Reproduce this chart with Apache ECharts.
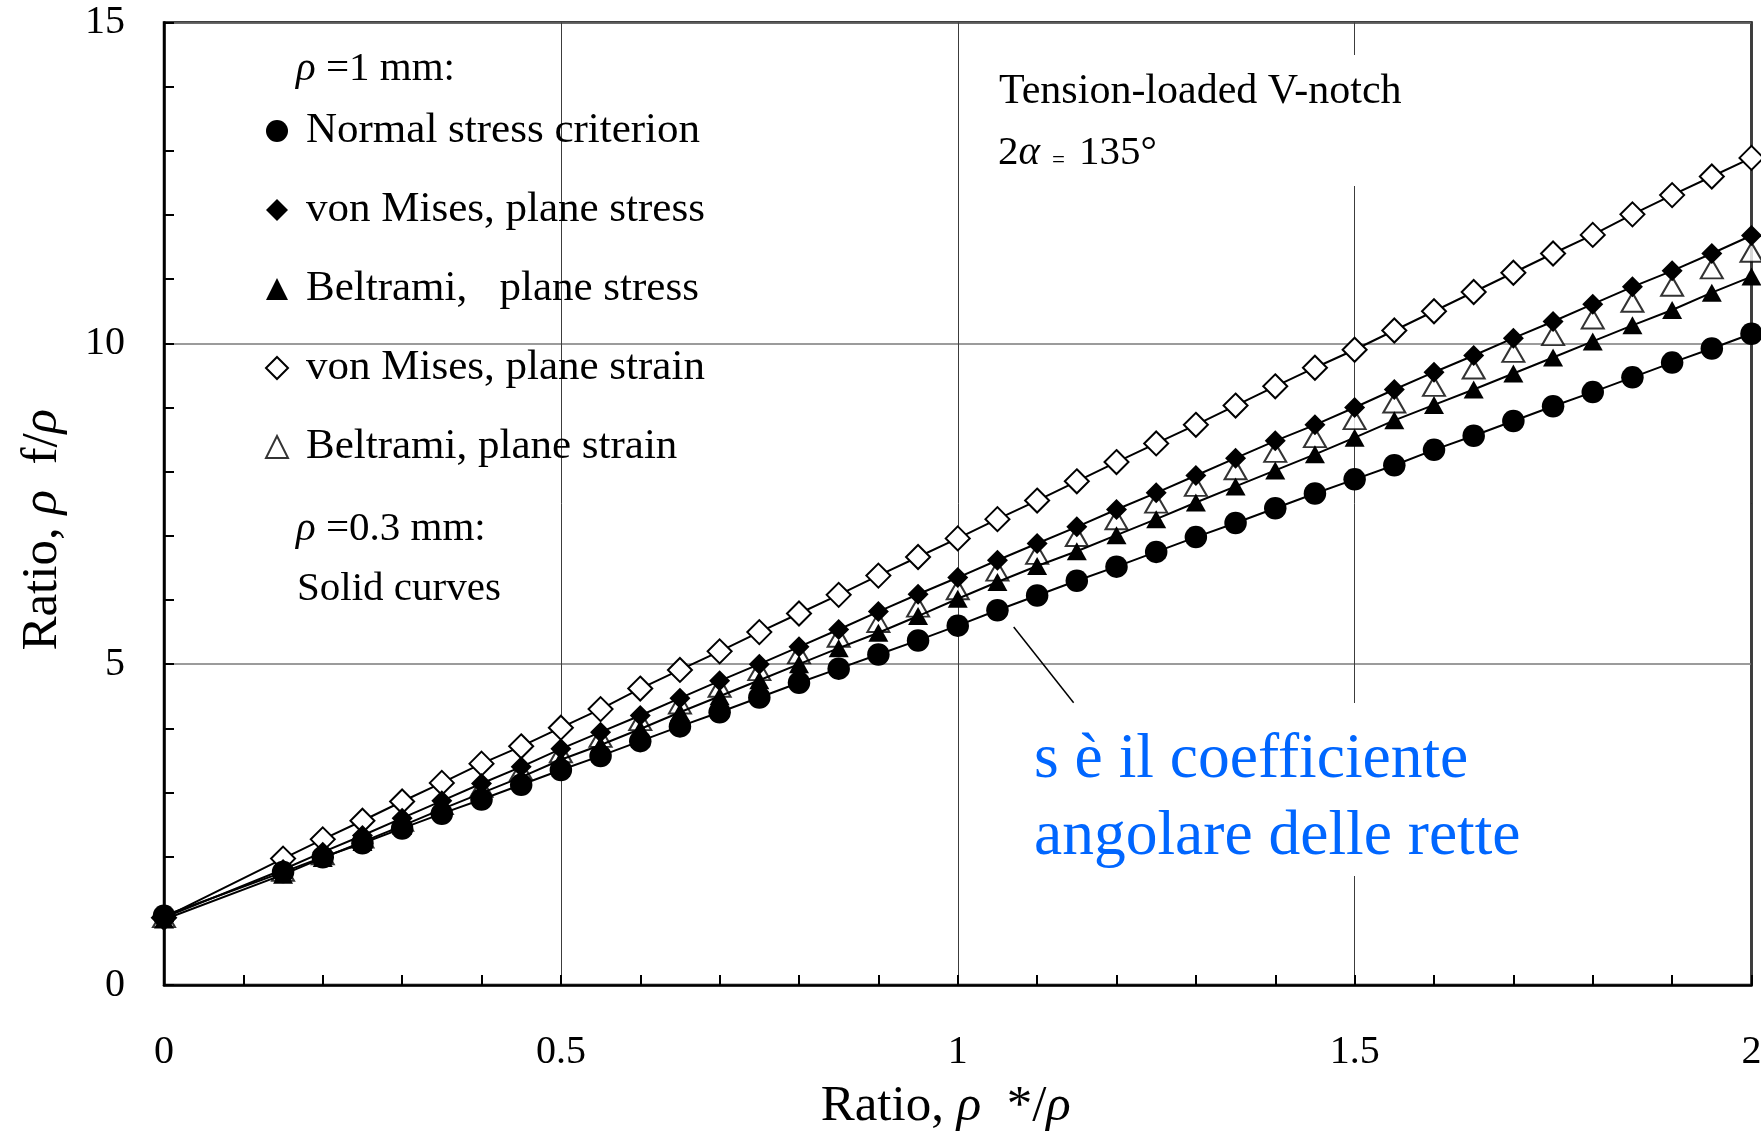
<!DOCTYPE html>
<html><head><meta charset="utf-8">
<script src="https://cdn.jsdelivr.net/npm/echarts@6/dist/echarts.min.js"></script>
<style>html,body{margin:0;padding:0;background:#fff}#c{width:1761px;height:1135px}</style>
</head><body><div id="c"></div>
<script>
// ---- data ----
const xValues = [0, 0.15, 0.2, 0.25, 0.3, 0.35, 0.4, 0.45, 0.5, 0.55, 0.6, 0.65, 0.7, 0.75, 0.8, 0.85, 0.9, 0.95, 1,
  1.05, 1.1, 1.15, 1.2, 1.25, 1.3, 1.35, 1.4, 1.45, 1.5, 1.55, 1.6, 1.65, 1.7, 1.75, 1.8, 1.85, 1.9, 1.95, 2];
const normalStress = [1.08, 1.76, 1.99, 2.21, 2.44, 2.67, 2.89, 3.12, 3.35, 3.57, 3.80, 4.03, 4.25, 4.48, 4.71, 4.93, 5.15, 5.37, 5.60,
  5.84, 6.07, 6.30, 6.52, 6.75, 6.98, 7.20, 7.43, 7.66, 7.88, 8.10, 8.34, 8.56, 8.79, 9.02, 9.24, 9.47, 9.70, 9.92, 10.15];
const vonMisesPlaneStress = [1.05, 1.80, 2.07, 2.33, 2.60, 2.87, 3.14, 3.40, 3.68, 3.94, 4.20, 4.47, 4.74, 5.00, 5.27, 5.54, 5.82, 6.09, 6.35,
  6.62, 6.88, 7.14, 7.41, 7.67, 7.94, 8.21, 8.48, 8.73, 9.00, 9.28, 9.55, 9.81, 10.08, 10.34, 10.61, 10.88, 11.13, 11.40, 11.68];
const beltramiPlaneStress = [1.02, 1.72, 1.98, 2.23, 2.48, 2.74, 2.99, 3.24, 3.51, 3.74, 3.99, 4.25, 4.50, 4.75, 5.00, 5.25, 5.49, 5.75, 6.02,
  6.28, 6.53, 6.76, 7.01, 7.26, 7.52, 7.77, 8.02, 8.27, 8.53, 8.80, 9.04, 9.28, 9.53, 9.78, 10.03, 10.28, 10.52, 10.79, 11.04];
const vonMisesPlaneStrain = [1.05, 1.97, 2.27, 2.56, 2.86, 3.15, 3.45, 3.72, 4.01, 4.30, 4.62, 4.91, 5.20, 5.50, 5.79, 6.08, 6.38, 6.67, 6.96,
  7.26, 7.55, 7.85, 8.15, 8.44, 8.73, 9.03, 9.33, 9.62, 9.90, 10.20, 10.50, 10.80, 11.10, 11.40, 11.69, 12.01, 12.31, 12.60, 12.89];
const beltramiPlaneStrain = [1.05, 1.77, 2.03, 2.29, 2.55, 2.81, 3.08, 3.34, 3.62, 3.86, 4.12, 4.38, 4.64, 4.90, 5.16, 5.42, 5.65, 5.89, 6.16,
  6.45, 6.71, 6.99, 7.25, 7.51, 7.77, 8.03, 8.30, 8.53, 8.81, 9.07, 9.33, 9.60, 9.86, 10.12, 10.38, 10.64, 10.89, 11.16, 11.42];
const seriesNames = ['Normal stress criterion', 'von Mises, plane stress', 'Beltrami,   plane stress',
  'von Mises, plane strain', 'Beltrami, plane strain'];
const annotationFrom = [1.0705, 5.58];
const annotationTo = [1.146, 4.40];

// ---- chart ----
const FONT = 'Liberation Serif';
const pairs = ys => xValues.map((x, i) => [x, ys[i]]);
const chart = echarts.init(document.getElementById('c'), null, { renderer: 'canvas' });

const openStyle = { color: '#fff', borderColor: '#000', borderWidth: 2 };
const fillStyle = { color: '#000', borderWidth: 0 };
const lineStyle = { color: '#000', width: 2 };
const common = { silent: true, emphasis: { disabled: true }, animation: false };

const option = {
  animation: false,
  backgroundColor: '#fff',
  textStyle: { fontFamily: FONT },
  grid: { left: 164, right: 9.5, top: 22.5, bottom: 150, show: true, borderColor: '#000', borderWidth: 2.5,
    containLabel: false, outerBoundsMode: 'none' },
  xAxis: {
    type: 'value', min: 0, max: 2, interval: 0.5,
    axisLine: { show: true, lineStyle: { color: '#000', width: 2.5 } },
    axisTick: { show: true, inside: true, length: 10, lineStyle: { color: '#000', width: 2 } },
    minorTick: { show: true, splitNumber: 5, length: 10, lineStyle: { color: '#000', width: 2 } },
    splitLine: { show: true, lineStyle: { color: '#3c3c3c', width: 1 } },
    axisLabel: { fontSize: 40, color: '#000', fontFamily: FONT, margin: 47 },
    name: 'Ratio, {i|ρ}  */{i|ρ}', nameLocation: 'middle', nameGap: 96,
    nameTextStyle: { fontSize: 51, color: '#000', fontFamily: FONT, padding: [0, 24, 0, 0],
      rich: { i: { fontSize: 51, fontStyle: 'italic', fontFamily: FONT, color: '#000' } } }
  },
  yAxis: {
    type: 'value', min: 0, max: 15, interval: 5,
    axisLine: { show: true, lineStyle: { color: '#000', width: 2.5 } },
    axisTick: { show: true, inside: true, length: 10, lineStyle: { color: '#000', width: 2 } },
    minorTick: { show: true, splitNumber: 5, length: 10, lineStyle: { color: '#000', width: 2 } },
    splitLine: { show: true, lineStyle: { color: '#7a7a7a', width: 1.5 } },
    axisLabel: { fontSize: 40, color: '#000', fontFamily: FONT, margin: 39 },
    name: 'Ratio, {i|ρ}  f/{i|ρ}', nameLocation: 'middle', nameGap: 96,
    nameTextStyle: { fontSize: 51, color: '#000', fontFamily: FONT, padding: [0, 52, 0, 0],
      rich: { i: { fontSize: 51, fontStyle: 'italic', fontFamily: FONT, color: '#000' } } }
  },
  legend: {
    orient: 'vertical', left: 265, top: 106, padding: 0, itemGap: 29, itemWidth: 22, itemHeight: 22,
    selectedMode: false,
    textStyle: { fontFamily: FONT, fontSize: 43, color: '#000', lineHeight: 50, padding: [0, 0, 0, 13] },
    data: [
      { name: seriesNames[0], icon: 'circle', itemStyle: fillStyle },
      { name: seriesNames[1], icon: 'diamond', itemStyle: fillStyle },
      { name: seriesNames[2], icon: 'triangle', itemStyle: fillStyle },
      { name: seriesNames[3], icon: 'diamond', itemStyle: openStyle },
      { name: seriesNames[4], icon: 'triangle', itemStyle: openStyle }
    ]
  },
  series: [
    Object.assign({ name: seriesNames[3], type: 'line', data: pairs(vonMisesPlaneStrain), symbol: 'diamond', symbolSize: [24, 24],
      showAllSymbol: true, lineStyle: lineStyle, itemStyle: openStyle, z: 2 }, common),
    Object.assign({ name: seriesNames[4], type: 'scatter', data: pairs(beltramiPlaneStrain), symbol: 'triangle',
      symbolSize: [22, 19], itemStyle: openStyle, z: 3 }, common),
    Object.assign({ name: seriesNames[0], type: 'line', data: pairs(normalStress), symbol: 'circle', symbolSize: 22.5,
      showAllSymbol: true, lineStyle: lineStyle, itemStyle: fillStyle, z: 4 }, common),
    Object.assign({ name: seriesNames[2], type: 'line', data: pairs(beltramiPlaneStress), symbol: 'triangle', symbolSize: [20, 18],
      showAllSymbol: true, lineStyle: lineStyle, itemStyle: fillStyle, z: 5 }, common),
    Object.assign({ name: seriesNames[1], type: 'line', data: pairs(vonMisesPlaneStress), symbol: 'diamond', symbolSize: [21, 21],
      showAllSymbol: true, lineStyle: lineStyle, itemStyle: fillStyle, z: 6 }, common)
  ]
};
chart.setOption(option);

const p1 = chart.convertToPixel({ gridIndex: 0 }, annotationFrom);
const p2 = chart.convertToPixel({ gridIndex: 0 }, annotationTo);
const txt = (text, x, y, size, extra) => ({
  type: 'text', x: x, y: y, z: 10,
  style: Object.assign({ text: text, fontFamily: FONT, fontSize: size, fill: '#000', align: 'left', verticalAlign: 'middle' }, extra || {})
});
const richI = size => ({ i: { fontStyle: 'italic', fontSize: size, fontFamily: FONT, fill: '#000' } });
chart.setOption({
  graphic: [
    { type: 'rect', z: 1, shape: { x: 985, y: 55, width: 440, height: 131 }, style: { fill: '#fff' } },
    { type: 'rect', z: 1, shape: { x: 1022, y: 703, width: 510, height: 173 }, style: { fill: '#fff' } },
    txt('{i|ρ} =1 mm:', 296, 69, 41, { rich: richI(41) }),
    txt('{i|ρ} =0.3 mm:', 296, 529, 41, { rich: richI(41) }),
    txt('Solid curves', 297, 589, 41),
    txt('Tension-loaded V-notch', 999, 92, 42),
    txt('2{i|α}', 998, 153, 41, { rich: richI(41) }),
    txt('=', 1052, 161, 23),
    txt('135°', 1079, 153, 41),
    txt('s è il coefficiente', 1034, 760, 63.5, { fill: '#0066ff' }),
    txt('angolare delle rette', 1034, 837, 63.5, { fill: '#0066ff' }),
    { type: 'line', z: 10, shape: { x1: p1[0], y1: p1[1], x2: p2[0], y2: p2[1] }, style: { stroke: '#000', lineWidth: 1.5 } }
  ]
});
</script>
</body></html>
